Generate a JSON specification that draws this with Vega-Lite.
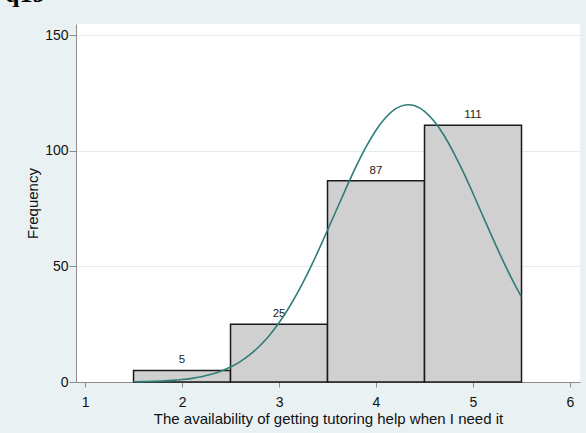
{
  "$schema": "https://vega.github.io/schema/vega-lite/v6.json",
  "autosize": {"type": "none"},
  "width": 504,
  "height": 358,
  "padding": {"left": 76, "top": 24, "right": 6, "bottom": 51},
  "background": "#e9f1f3",
  "title": {
    "text": "q19",
    "anchor": "start",
    "frame": "group",
    "orient": "top",
    "baseline": "alphabetic",
    "offset": 2,
    "dx": -71,
    "dy": 6,
    "font": "Liberation Serif",
    "fontWeight": "bold",
    "fontSize": 26,
    "color": "#000000"
  },
  "config": {
    "view": {"fill": "#ffffff", "stroke": null},
    "axis": {
      "labelFont": "Liberation Sans",
      "titleFont": "Liberation Sans",
      "labelColor": "#111111",
      "titleColor": "#111111",
      "titleFontWeight": "normal",
      "domainColor": "#8c8c8c",
      "tickColor": "#8c8c8c"
    }
  },
  "datasets": {
    "bins": [
      {"value": 2, "bin_start": 1.5, "bin_end": 2.5, "count": 5},
      {"value": 3, "bin_start": 2.5, "bin_end": 3.5, "count": 25},
      {"value": 4, "bin_start": 3.5, "bin_end": 4.5, "count": 87},
      {"value": 5, "bin_start": 4.5, "bin_end": 5.5, "count": 111}
    ],
    "curve": [
      {"x": 1.5, "y": 0.11}, {"x": 1.6, "y": 0.18}, {"x": 1.7, "y": 0.29}, {"x": 1.8, "y": 0.46},
      {"x": 1.9, "y": 0.70}, {"x": 2.0, "y": 1.06}, {"x": 2.1, "y": 1.58}, {"x": 2.2, "y": 2.30},
      {"x": 2.3, "y": 3.31}, {"x": 2.4, "y": 4.67}, {"x": 2.5, "y": 6.47}, {"x": 2.6, "y": 8.82},
      {"x": 2.7, "y": 11.82}, {"x": 2.8, "y": 15.56}, {"x": 2.9, "y": 20.13}, {"x": 3.0, "y": 25.60},
      {"x": 3.1, "y": 31.99}, {"x": 3.2, "y": 39.29}, {"x": 3.3, "y": 47.43}, {"x": 3.4, "y": 56.27},
      {"x": 3.5, "y": 65.60}, {"x": 3.6, "y": 75.15}, {"x": 3.7, "y": 84.62}, {"x": 3.8, "y": 93.65},
      {"x": 3.9, "y": 101.86}, {"x": 4.0, "y": 108.87}, {"x": 4.1, "y": 114.36}, {"x": 4.2, "y": 118.07},
      {"x": 4.3, "y": 119.78}, {"x": 4.4, "y": 119.44}, {"x": 4.5, "y": 117.04}, {"x": 4.6, "y": 112.72},
      {"x": 4.7, "y": 106.69}, {"x": 4.8, "y": 99.23}, {"x": 4.9, "y": 90.72}, {"x": 5.0, "y": 81.51},
      {"x": 5.1, "y": 71.96}, {"x": 5.2, "y": 62.43}, {"x": 5.3, "y": 53.25}, {"x": 5.4, "y": 44.63},
      {"x": 5.5, "y": 36.76}
    ]
  },
  "layer": [
    {
      "data": {"name": "bins"},
      "mark": {"type": "rect", "fill": "#d0d0d0", "stroke": "#1a1a1a", "strokeWidth": 1.5},
      "encoding": {
        "x": {
          "field": "bin_start", "type": "quantitative",
          "scale": {"domain": [0.907, 6.103], "nice": false, "zero": false},
          "axis": {
            "values": [1, 2, 3, 4, 5, 6],
            "format": "d",
            "title": "The availability of getting tutoring help when I need it",
            "grid": false,
            "tickSize": 5,
            "labelPadding": 8,
            "labelFontSize": 14,
            "titleFontSize": 15,
            "titlePadding": 2,
            "labelFlush": false
          }
        },
        "x2": {"field": "bin_end"},
        "y": {
          "field": "count", "type": "quantitative",
          "scale": {"domain": [0, 154.8], "nice": false},
          "axis": {
            "values": [0, 50, 100, 150],
            "format": "d",
            "title": "Frequency",
            "grid": true,
            "gridColor": "#e3edf0",
            "tickSize": 7,
            "labelPadding": 1,
            "labelFontSize": 14,
            "titleFontSize": 15,
            "titlePadding": 4,
            "labelFlush": false
          }
        },
        "y2": {"datum": 0}
      }
    },
    {
      "data": {"name": "bins"},
      "mark": {"type": "text", "baseline": "alphabetic", "dy": -7, "fontSize": 11.5, "font": "Liberation Sans", "color": "#222222"},
      "encoding": {
        "x": {"field": "value", "type": "quantitative"},
        "y": {"field": "count", "type": "quantitative"},
        "text": {"field": "count", "type": "quantitative"}
      }
    },
    {
      "data": {"name": "curve"},
      "mark": {"type": "line", "color": "#2f7d78", "strokeWidth": 1.6, "interpolate": "natural"},
      "encoding": {
        "x": {"field": "x", "type": "quantitative"},
        "y": {"field": "y", "type": "quantitative"}
      }
    }
  ]
}
